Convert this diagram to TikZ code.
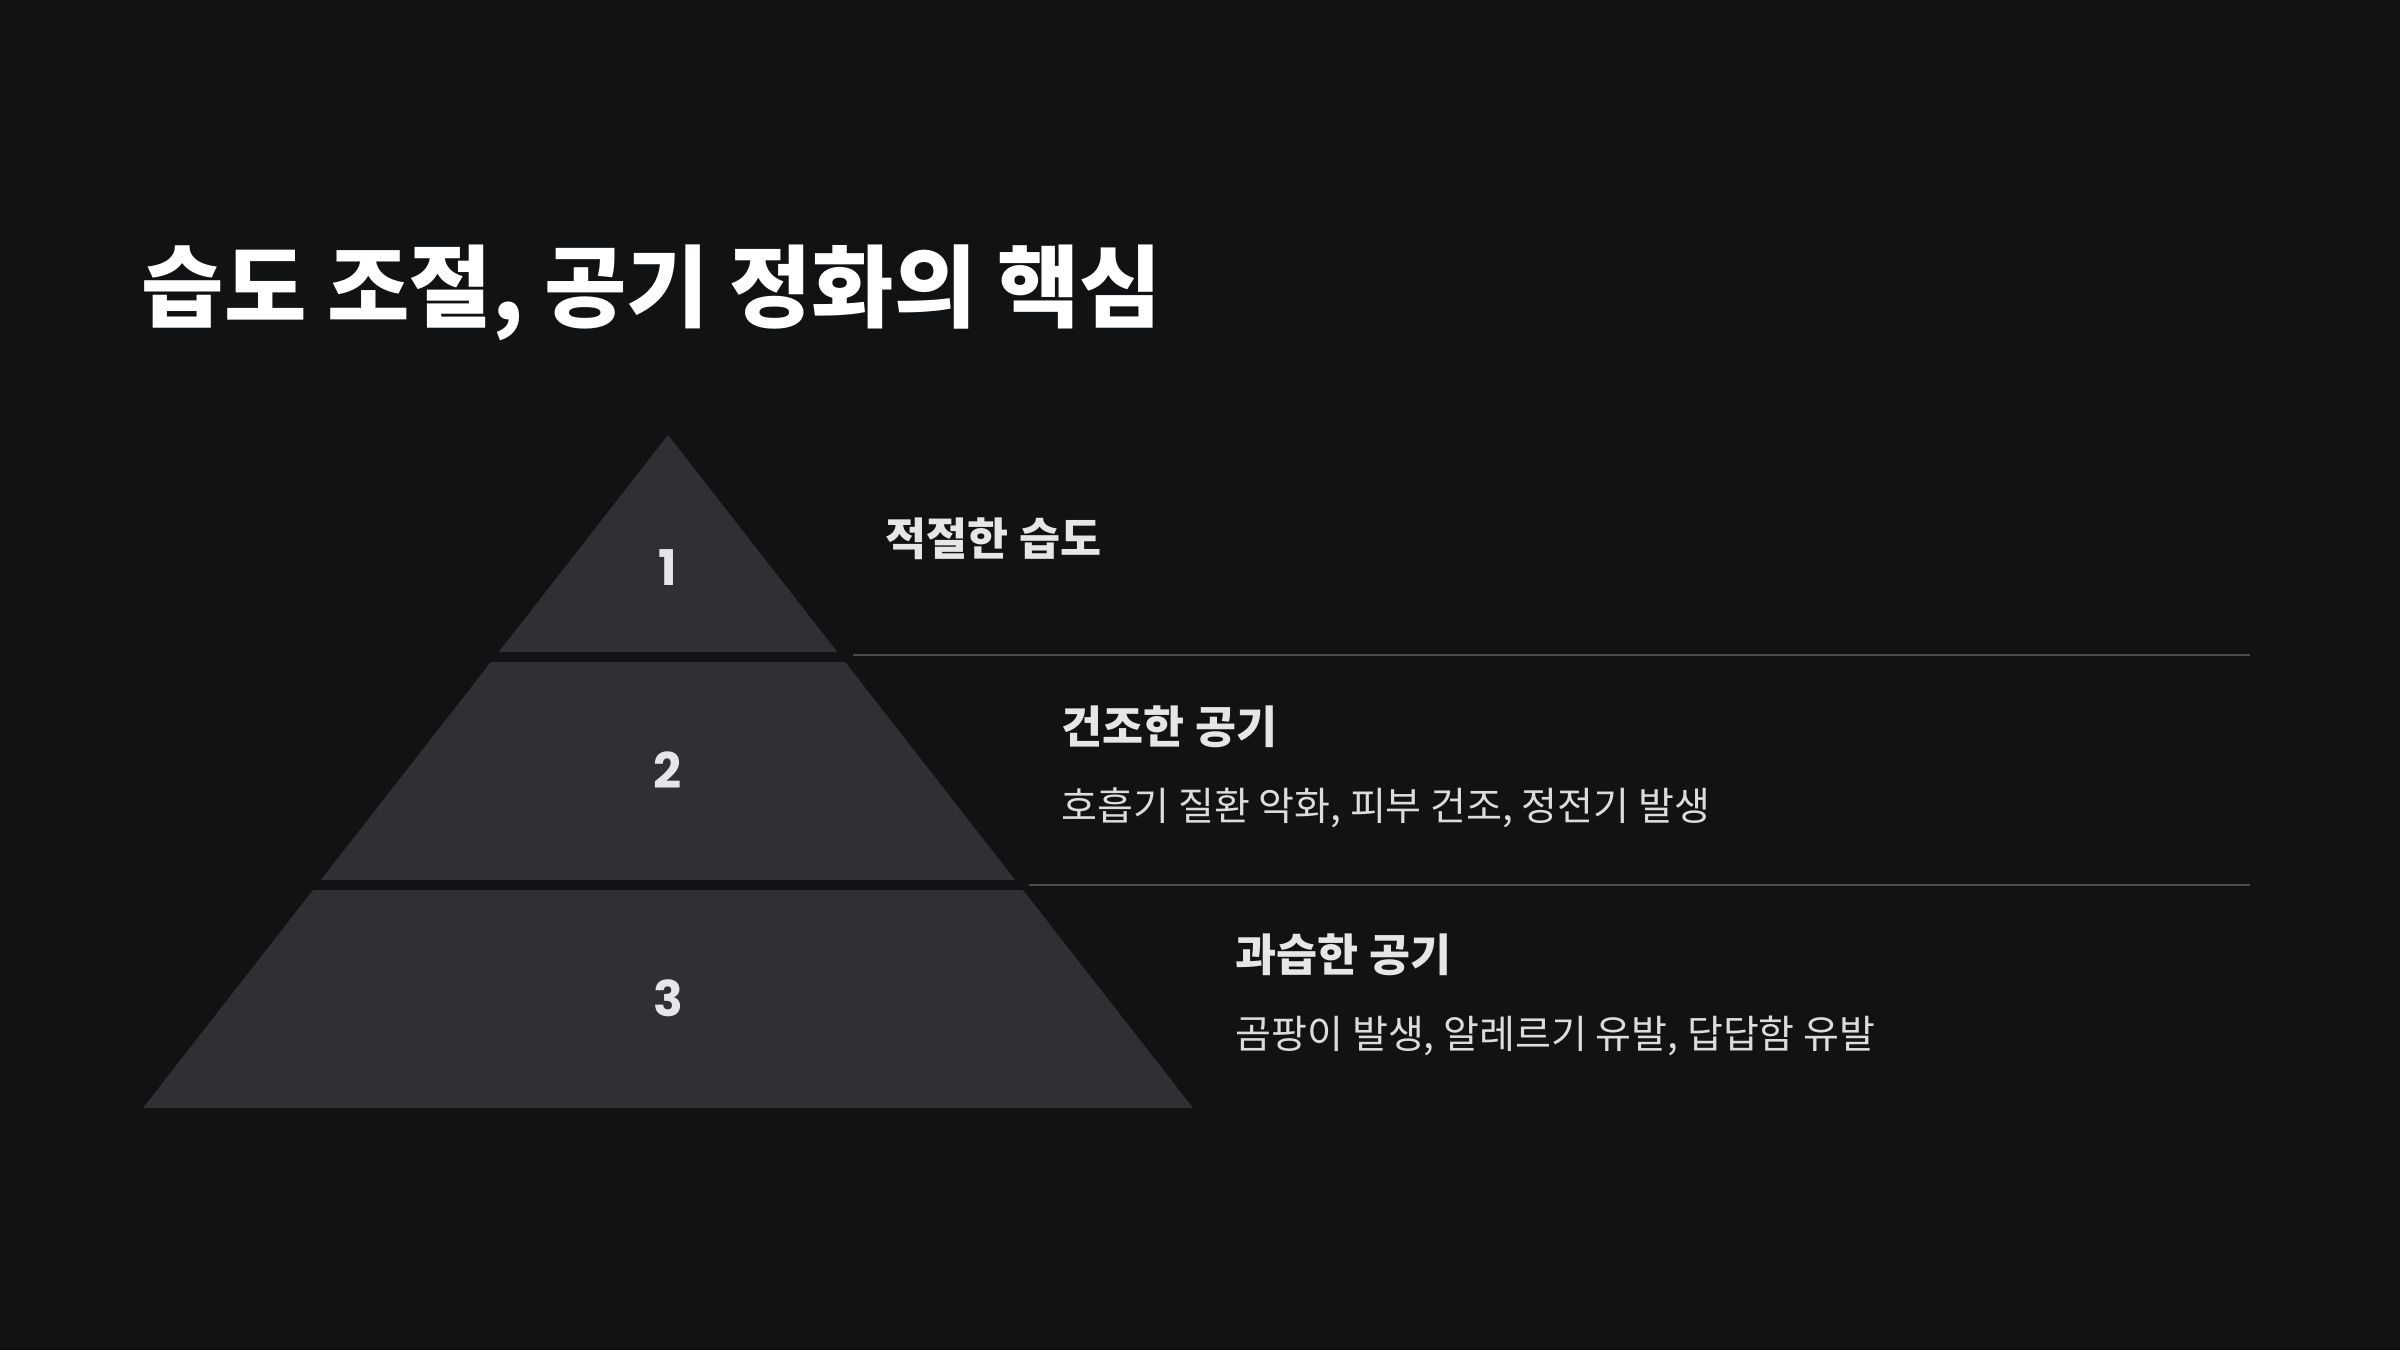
\documentclass[tikz,border=0pt]{standalone}
\usepackage{fontspec}
\setmainfont{Noto Sans CJK KR}
\newfontfamily\numfont{Poppins}
\usetikzlibrary{positioning}

\definecolor{bgdark}{HTML}{111214}
\definecolor{tierfill}{HTML}{2F3033}
\definecolor{rulegray}{HTML}{4A4B4F}
\definecolor{headtext}{HTML}{E6E6E8}
\definecolor{bodytext}{HTML}{DCDCDE}

\begin{document}
\begin{tikzpicture}[
  x=0.1mm, y=-0.1mm,
  tier/.style={fill=tierfill},
  tiernum/.style={font=\numfont\bfseries\fontsize{14}{16}\selectfont,text=headtext,inner sep=0pt},
  heading/.style={anchor=west,inner sep=0pt,font=\bfseries\fontsize{12.7}{15}\selectfont,text=headtext},
  desc/.style={anchor=west,inner sep=0pt,font=\fontsize{11.1}{13}\selectfont,text=bodytext},
  sep/.style={draw=rulegray,line width=0.6pt}
]
  \fill[bgdark] (0,0) rectangle (2400,1350);
  \useasboundingbox (0,0) rectangle (2400,1350);

  \node[anchor=west,inner sep=0pt,text=white,font=\bfseries\fontsize{25.5}{30}\selectfont]
    (title) at (141,293) {습도 조절, 공기 정화의 핵심};

  % pyramid tiers
  \fill[tier] (668,435) -- (837.3,652) -- (498.7,652) -- cycle;
  \fill[tier] (490.9,662) -- (845.1,662) -- (1015.2,880) -- (320.8,880) -- cycle;
  \fill[tier] (313,890) -- (1023,890) -- (1193,1108) -- (143,1108) -- cycle;

  \node[tiernum] (num1) at (668,568) {1};
  \node[tiernum] (num2) at (668,770) {2};
  \node[tiernum] (num3) at (668,998) {3};

  % separators
  \coordinate (sepA) at (853,655);
  \coordinate (sepAend) at (2250,655);
  \coordinate (sepB) at (1029,885);
  \coordinate (sepBend) at (2250,885);
  \draw[sep] (sepA) -- (sepAend);
  \draw[sep] (sepB) -- (sepBend);

  % labels
  \node[heading] (head1) at (885,539) {적절한 습도};
  \node[heading] (head2) at (1061,727) {건조한 공기};
  \node[desc] (desc2) at (1061,808) {호흡기 질환 악화, 피부 건조, 정전기 발생};
  \node[heading] (head3) at (1235,955) {과습한 공기};
  \node[desc] (desc3) at (1235,1036) {곰팡이 발생, 알레르기 유발, 답답함 유발};
\end{tikzpicture}
\end{document}
